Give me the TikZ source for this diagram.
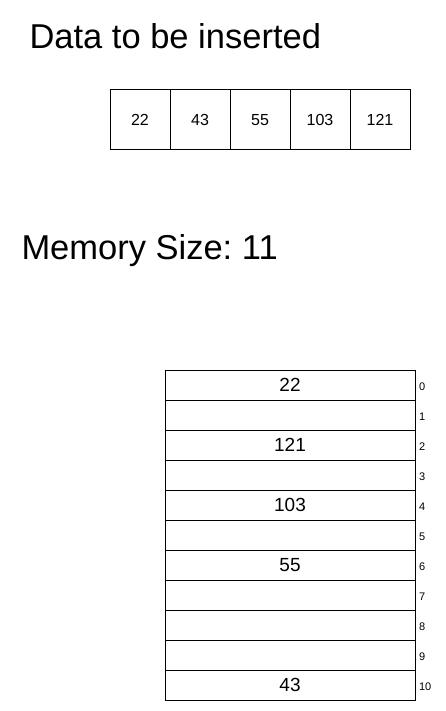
\documentclass[tikz,border=0pt]{standalone}
\usepackage{fontspec}
\setmainfont{Liberation Sans}
\usetikzlibrary{positioning}
\frenchspacing

\begin{document}
\begin{tikzpicture}[x=1pt,y=-1pt,line width=1pt,
  datacell/.style={draw,minimum width=60pt,minimum height=60pt,inner sep=0pt,font=\fontsize{16}{18}\selectfont},
  memcell/.style={draw,minimum width=250pt,minimum height=30pt,inner sep=0pt,font=\fontsize{19}{21}\selectfont},
  idx/.style={anchor=west,inner sep=0pt,font=\fontsize{11}{13}\selectfont}]
\useasboundingbox (0,0) rectangle (446,711);
% Titles
\node[anchor=base west,inner sep=0pt,font=\fontsize{34.5}{38}\selectfont] (title) at (29,49) {Data to be inserted};
\node[anchor=base west,inner sep=0pt,font=\fontsize{34.5}{38}\selectfont] (memsize) at (21,259) {Memory Size: 11};
% Data to be inserted
\foreach \v [count=\i from 0] in {22,43,55,103,121}
  \node[datacell] (d\i) at (140+60*\i,120) {\v};
% Memory cells with indices
\foreach \v [count=\i from 0] in {22,,121,,103,,55,,,,43}{
  \node[memcell] (m\i) at (290,385+30*\i) {\v};
  \node[idx] (k\i) at (418.5,387+30*\i) {\i};
}
\end{tikzpicture}
\end{document}
